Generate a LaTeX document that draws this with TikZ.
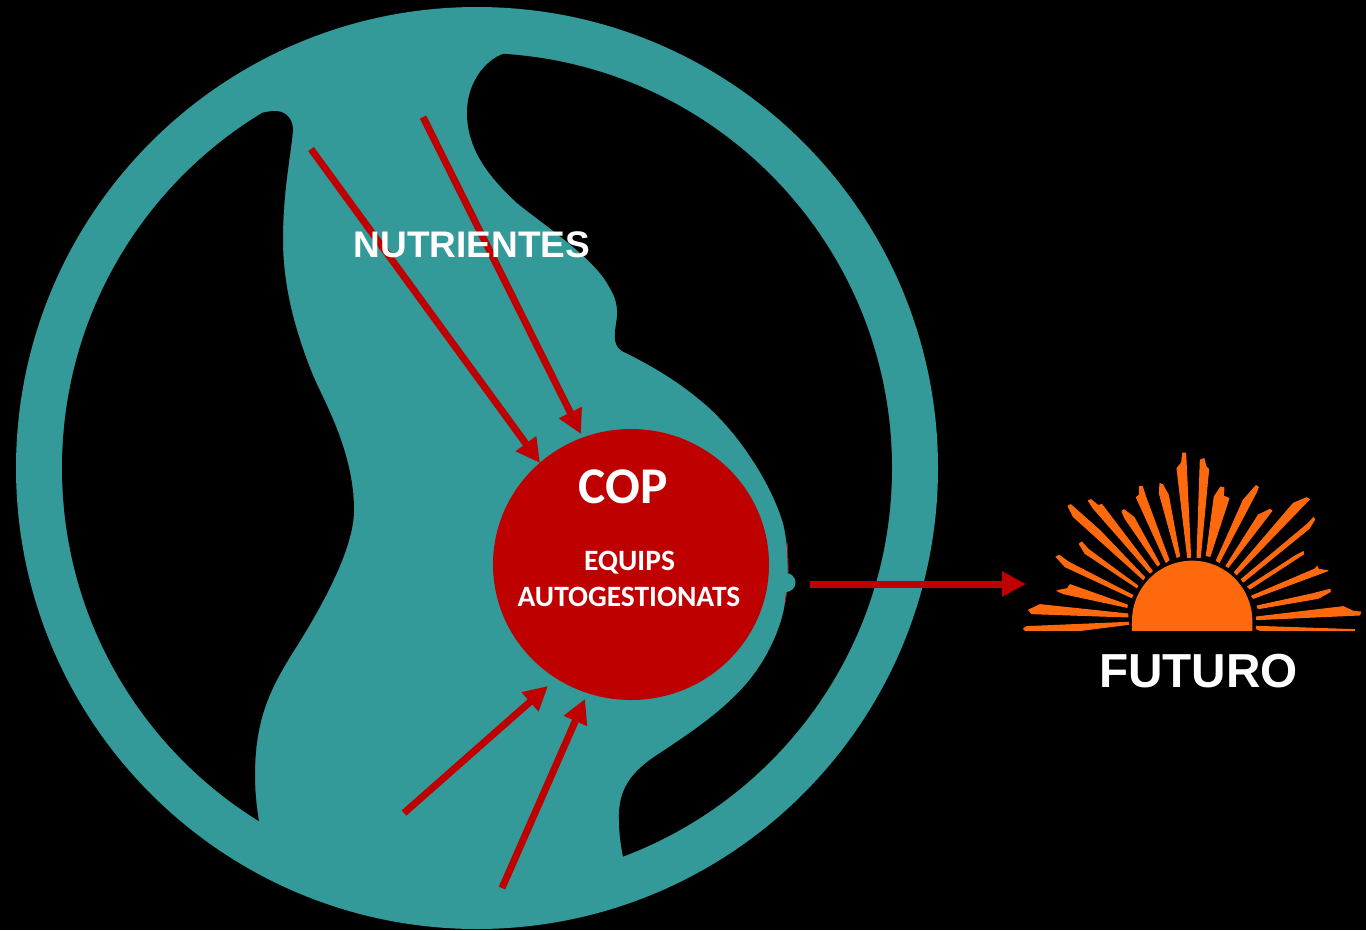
\documentclass[tikz,border=0pt]{standalone}
\usepackage{fontspec}
\setmainfont{Liberation Sans}
\newfontfamily\carlito{Carlito}
\usetikzlibrary{arrows.meta,shapes.geometric}
\definecolor{tealbody}{HTML}{339999}
\definecolor{copred}{HTML}{BE0000}
\definecolor{sunorange}{HTML}{FF690D}
\tikzset{
  feed/.style={draw=copred,line width=7pt,-{Triangle[length=24pt,width=24pt]}},
  ray/.style={fill=sunorange,draw=sunorange,line width=1pt,line join=round},
  capt/.style={text=white,anchor=base,inner sep=0pt,font=\bfseries},
}
\begin{document}
\begin{tikzpicture}[x=1pt,y=-1pt]
\useasboundingbox (0,0) rectangle (1366,930);
\fill[black] (0,0) rectangle (1366,930);
% ring and body
\fill[tealbody] (477,468) circle[radius=461];
\begin{scope}
\clip (477,468) circle[radius=415];
% left void
\fill[black] (0,0) -- (225,100) -- (240,120) .. controls (255,115) and (265,111) .. (275,111)
  .. controls (287,111) and (293,120) .. (293,130)
  .. controls (291,155) and (283,190) .. (283,240)
  .. controls (283,290) and (297,335) .. (312,373)
  .. controls (322,398) and (354,450) .. (354,510)
  .. controls (354,550) and (320,610) .. (290,657)
  .. controls (270,690) and (255,720) .. (255,775)
  .. controls (255,795) and (257,808) .. (259,822)
  -- (262,860) -- (0,930) -- cycle;
% right void
\fill[black] (560,20) -- (503,54)
  .. controls (490,58) and (467,78) .. (467,113)
  .. controls (467,150) and (490,178) .. (517,203)
  .. controls (540,222) and (590,255) .. (607,283)
  .. controls (613,293) and (618,302) .. (617,316)
  .. controls (616,326) and (614,333) .. (615,340)
  .. controls (616,346) and (619,349) .. (622,351)
  .. controls (640,360) and (670,375) .. (700,400)
  .. controls (735,428) and (770,480) .. (783,523)
  .. controls (787,540) and (788,555) .. (788,570)
  .. controls (788,585) and (787,595) .. (785,603)
  .. controls (782,625) and (769,657) .. (747,683)
  .. controls (722,712) and (690,733) .. (660,753)
  .. controls (630,772) and (618,790) .. (619,820)
  .. controls (619,835) and (621,846) .. (623,857)
  -- (626,890) -- (1000,900) -- (1000,20) -- cycle;
\end{scope}
\draw[copred,line width=.8pt] (787.3,543) -- (788.4,572);
\draw[copred,line width=.8pt] (786.5,590) -- (785.2,603);
\fill[tealbody] (786,582.5) circle[radius=9.5];
% COP
\node[ellipse,fill=copred,minimum width=276pt,minimum height=271pt,inner sep=0pt] (cop) at (631,564.5) {};
\node[capt,font=\carlito\bfseries\fontsize{51.5}{54}\selectfont] (copt) at (623.5,503) {COP};
\node[capt,font=\carlito\bfseries\fontsize{29.5}{32}\selectfont] (eq) at (629.5,570) {EQUIPS};
\node[capt,font=\carlito\bfseries\fontsize{29.5}{32}\selectfont] (au) at (629,606) {AUTOGESTIONATS};
% arrows
\coordinate (a1s) at (311,149); \coordinate (a1e) at (540,463);
\coordinate (a2s) at (423,117); \coordinate (a2e) at (581,434);
\coordinate (a3s) at (404,813); \coordinate (a3e) at (548,686);
\coordinate (a4s) at (502,888); \coordinate (a4e) at (585,699);
\coordinate (a5s) at (810,584); \coordinate (a5e) at (1026,584);
\draw[feed] (a1s) -- (a1e);
\draw[feed] (a2s) -- (a2e);
\draw[feed] (a3s) -- (a3e);
\draw[feed] (a4s) -- (a4e);
\draw[feed] (a5s) -- (a5e);
\node[capt,font=\bfseries\fontsize{37}{40}\selectfont] (nut) at (472,257) {NUTRIENTES};
% sun
\begin{scope}[shift={(1010,440)},x=0.3333pt,y=-0.3333pt]
\fill[sunorange] (366,573) -- (366,543) arc[start angle=180,end angle=360,x radius=180.5,y radius=181] -- (727,573) -- cycle;
\draw[ray] (41,566)--(50,560)--(355,547)--(356,553)--(215,571)--(45,571)--cycle;
\draw[ray] (56,510)--(90,494)--(354,522)--(354,531)--(65,521)--cycle;
\draw[ray] (141,452)--(172,446)--(180,434)--(352,495)--(351,502)--(160,461)--cycle;
\draw[ray] (138,350)--(148,346)--(175,366)--(369,466)--(365,473)--(165,380)--cycle;
\draw[ray] (208,312)--(215,306)--(235,328)--(384,438)--(380,443)--(225,340)--cycle;
\draw[ray] (174,198)--(182,194)--(270,272)--(404,412)--(400,419)--(190,230)--cycle;
\draw[ray] (235,182)--(243,179)--(265,197)--(275,193)--(427,393)--(420,399)--(250,205)--cycle;
\draw[ray] (336,215)--(342,209)--(372,232)--(449,372)--(443,378)--(345,235)--cycle;
\draw[ray] (379,172)--(388,165)--(388,140)--(397,139)--(405,165)--(477,360)--(468,367)--cycle;
\draw[ray] (448,160)--(450,131)--(458,134)--(475,165)--(509,348)--(501,352)--cycle;
\draw[ray] (501,85)--(515,68)--(518,39)--(527,39)--(542,352)--(533,353)--cycle;
\draw[ray] (571,60)--(582,56)--(588,80)--(596,88)--(571,352)--(561,352)--cycle;
\draw[ray] (613,170)--(632,141)--(642,143)--(640,168)--(657,175)--(600,349)--(589,347)--cycle;
\draw[ray] (700,180)--(738,137)--(745,141)--(740,155)--(628,367)--(619,362)--cycle;
\draw[ray] (745,225)--(780,208)--(786,212)--(655,382)--(648,378)--cycle;
\draw[ray] (850,190)--(890,173)--(898,178)--(680,404)--(673,397)--cycle;
\draw[ray] (895,250)--(910,233)--(914,238)--(898,265)--(700,426)--(694,418)--cycle;
\draw[ray] (860,345)--(880,335)--(881,342)--(720,447)--(713,440)--cycle;
\draw[ray] (915,387)--(922,379)--(925,388)--(954,392)--(730,475)--(725,468)--cycle;
\draw[ray] (905,462)--(960,448)--(961,455)--(925,475)--(745,506)--(741,498)--cycle;
\draw[ray] (1000,500)--(1030,514)--(1052,516)--(1049,525)--(740,539)--(739,531)--cycle;
\draw[ray] (739,559)--(1034,569)--(1034,572)--(750,571)--(739,566)--cycle;
\end{scope}
\node[capt,font=\bfseries\fontsize{47.7}{50}\selectfont] (fut) at (1198.5,687) {FUTURO};
\end{tikzpicture}
\end{document}
